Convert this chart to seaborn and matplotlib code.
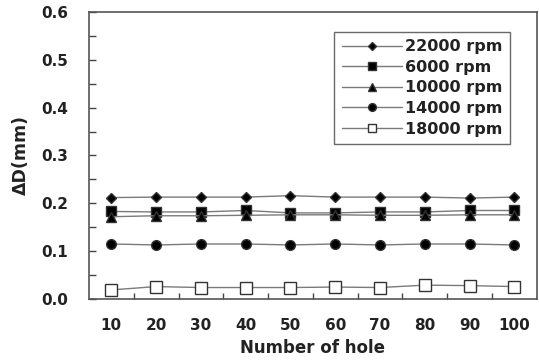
import numpy as np
import pandas as pd
import seaborn as sns
import matplotlib.pyplot as plt
from matplotlib.ticker import MultipleLocator, FixedLocator

# data
holes = ['10', '20', '30', '40', '50', '60', '70', '80', '90', '100']
rpm_22000 = [0.212, 0.213, 0.213, 0.213, 0.216, 0.213, 0.213, 0.213, 0.211, 0.213]
rpm_6000 = [0.183, 0.182, 0.182, 0.185, 0.180, 0.180, 0.182, 0.182, 0.185, 0.185]
rpm_10000 = [0.172, 0.174, 0.174, 0.175, 0.176, 0.176, 0.175, 0.175, 0.176, 0.176]
rpm_14000 = [0.115, 0.113, 0.115, 0.115, 0.113, 0.115, 0.113, 0.115, 0.115, 0.113]
rpm_18000 = [0.019, 0.026, 0.024, 0.024, 0.024, 0.025, 0.024, 0.029, 0.028, 0.026]

series = [('22000 rpm', rpm_22000, 'D', 'black', 5.5),
          ('6000 rpm', rpm_6000, 's', 'black', 7),
          ('10000 rpm', rpm_10000, '^', 'black', 7),
          ('14000 rpm', rpm_14000, 'o', 'black', 7),
          ('18000 rpm', rpm_18000, 's', 'white', 8)]

sns.set_style('white')
plt.rcParams['font.family'] = ['DejaVu Sans']

fig = plt.figure(figsize=(5.39, 3.62), dpi=100)
ax = fig.add_axes([0.165, 0.174, 0.831, 0.793])

for name, vals, mk, fc, ms in series:
    sns.lineplot(x=holes, y=vals, ax=ax, marker=mk, markersize=ms,
                 markerfacecolor=fc, markeredgecolor='#333333', markeredgewidth=1,
                 color='#7a7a7a', linewidth=1, label=name, sort=False)

ax.set_xlim(-0.5, 9.5)
ax.set_ylim(0, 0.6)
ax.yaxis.set_major_locator(MultipleLocator(0.1))
ax.yaxis.set_minor_locator(MultipleLocator(0.05))
ax.yaxis.set_major_formatter(plt.FormatStrFormatter('%.1f'))
ax.xaxis.set_minor_locator(FixedLocator(np.arange(0.5, 9.5, 1)))
ax.tick_params(axis='x', which='major', length=0, pad=14, labelsize=11)
ax.tick_params(axis='x', which='minor', direction='in', length=4, width=1, colors='#444444', bottom=True)
ax.tick_params(axis='y', which='both', direction='in', length=5, width=1, colors='#444444', left=True)
ax.tick_params(axis='y', which='major', labelsize=11, pad=15, labelcolor='#222222')
ax.tick_params(axis='x', which='major', labelcolor='#222222')
for lbl in ax.get_xticklabels() + ax.get_yticklabels():
    lbl.set_fontweight('bold')

for s in ax.spines.values():
    s.set_color('#555555')
    s.set_linewidth(1.2)

ax.set_xlabel('Number of hole', fontsize=12, fontweight='bold', color='#222222', labelpad=4)
ax.set_ylabel('ΔD(mm)', fontsize=12.5, fontweight='bold', color='#222222', labelpad=8)

leg = ax.legend(loc='upper right', bbox_to_anchor=(0.94, 0.93), frameon=True, fancybox=False,
                edgecolor='#444444', fontsize=11.5, handlelength=3.8, borderpad=0.45,
                labelspacing=0.35, handletextpad=0.2, borderaxespad=0, markerscale=0.8)
leg.get_frame().set_linewidth(1)
for t in leg.get_texts():
    t.set_fontweight('bold')
    t.set_color('#222222')

fig.savefig('out.png', dpi=100)
